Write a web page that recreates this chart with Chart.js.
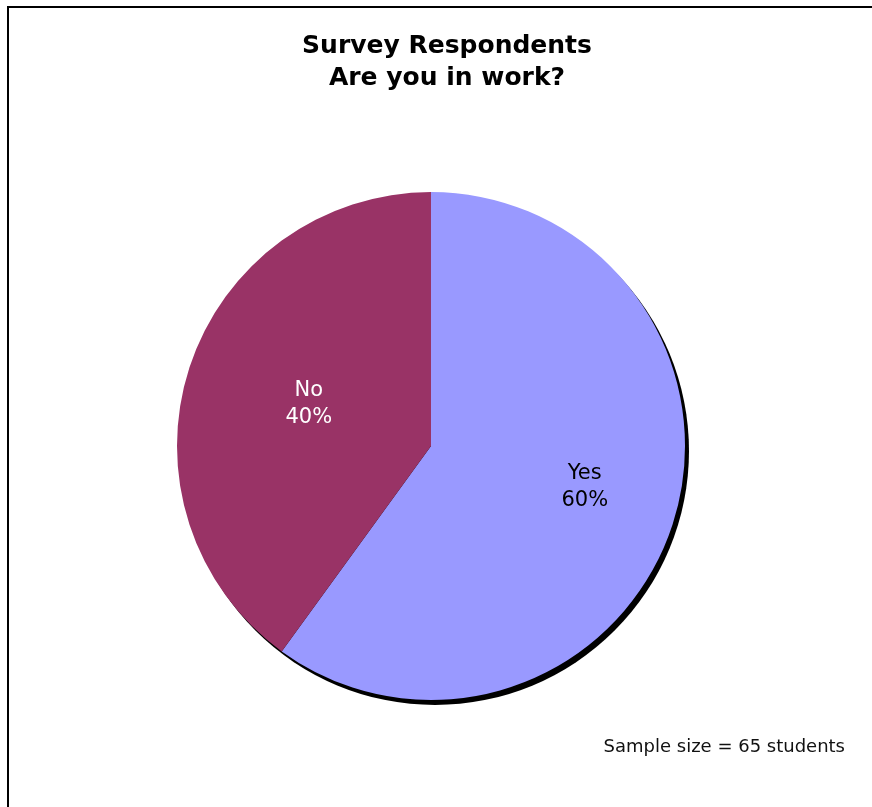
<!DOCTYPE html>
<html>
<head>
<meta charset="utf-8">
<title>Survey Respondents</title>
<script src="https://cdn.jsdelivr.net/npm/chart.js@4"></script>
<style>
  html, body { margin: 0; padding: 0; background: #fff; overflow: hidden; }
  #wrap { width: 872px; height: 807px; }
</style>
</head>
<body>
<div id="wrap"><canvas id="workChart" width="872" height="807"></canvas></div>
<script>
var answers = ["Yes", "No"];
var respondents = [39, 26];
var sliceColors = ["#9999FF", "#993366"];
var labelColors = ["#000000", "#ffffff"];
var titleLines = ["Survey Respondents", "Are you in work?"];
var sampleSize = 65;

var FONT = "Verdana, 'DejaVu Sans', sans-serif";

// black drop shadow behind the pie, offset down-right
var pieShadow = {
  id: "pieShadow",
  beforeDatasetsDraw: function(chart) {
    var arc = chart.getDatasetMeta(0).data[0];
    if (!arc) return;
    var ctx = chart.ctx;
    ctx.save();
    ctx.fillStyle = "#000";
    ctx.beginPath();
    ctx.arc(arc.x + 4, arc.y + 5, arc.outerRadius, 0, Math.PI * 2);
    ctx.fill();
    ctx.restore();
  }
};

// "No / 40%" style labels inside each slice
var sliceLabels = {
  id: "sliceLabels",
  afterDatasetsDraw: function(chart, args, opts) {
    var ctx = chart.ctx;
    var meta = chart.getDatasetMeta(0);
    var total = respondents.reduce(function(a, b) { return a + b; }, 0);
    ctx.save();
    ctx.font = "21px " + FONT;
    ctx.textAlign = "center";
    ctx.textBaseline = "middle";
    meta.data.forEach(function(arc, i) {
      var mid = (arc.startAngle + arc.endAngle) / 2;
      var r = arc.outerRadius * opts.radius[i];
      var x = arc.x + Math.cos(mid) * r + opts.nudge[i][0];
      var y = arc.y + Math.sin(mid) * r + opts.nudge[i][1];
      var pct = Math.round(respondents[i] / total * 100) + "%";
      ctx.fillStyle = labelColors[i];
      ctx.fillText(answers[i], x, y - 13);
      ctx.fillText(pct, x, y + 14);
    });
    ctx.restore();
  }
};

// outer frame, two-line heading and the sample size note
var frameAndText = {
  id: "frameAndText",
  afterDraw: function(chart) {
    var ctx = chart.ctx;
    ctx.save();
    ctx.strokeStyle = "#000";
    ctx.lineWidth = 2;
    ctx.strokeRect(8, 7, 900, 900);

    ctx.fillStyle = "#000";
    ctx.textAlign = "center";
    ctx.textBaseline = "middle";
    ctx.font = "bold 25px " + FONT;
    ctx.fillText(titleLines[0], 447, 46);
    ctx.fillText(titleLines[1], 447, 78);

    ctx.font = "18px " + FONT;
    ctx.textAlign = "right";
    ctx.fillStyle = "#111";
    ctx.fillText("Sample size = " + sampleSize + " students", 845, 747);
    ctx.restore();
  }
};

new Chart("workChart", {
  type: "pie",
  data: {
    labels: answers,
    datasets: [{
      data: respondents,
      backgroundColor: sliceColors,
      borderWidth: 0
    }]
  },
  options: {
    responsive: false,
    animation: false,
    layout: { padding: { left: 177, right: 187, top: 192, bottom: 107 } },
    plugins: {
      legend: { display: false },
      title: { display: false },
      tooltip: { enabled: false },
      sliceLabels: { radius: [0.62, 0.51], nudge: [[4, -8], [1, -2]] }
    }
  },
  plugins: [pieShadow, sliceLabels, frameAndText]
});
</script>
</body>
</html>
